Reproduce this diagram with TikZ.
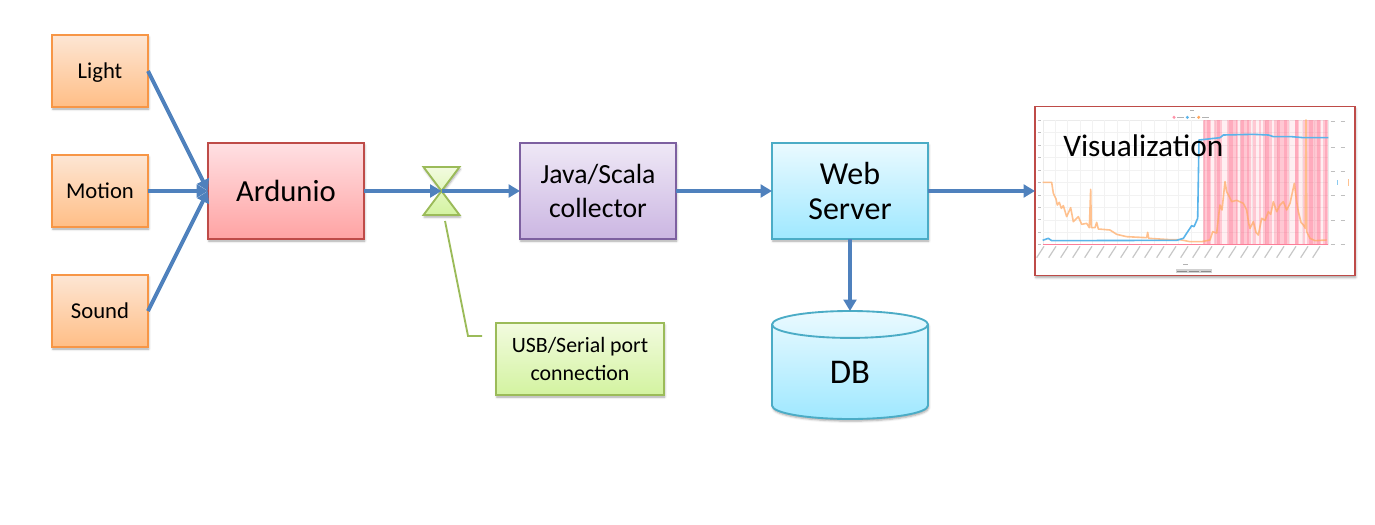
\documentclass[tikz,border=0pt]{standalone}
\usepackage{fontspec}
\setmainfont{Carlito}
\usetikzlibrary{arrows.meta,calc,positioning,shapes.geometric,shadows.blur}
\tikzset{%
      softshade/.style = { blur shadow={shadow xshift=.6pt, shadow yshift=-1.6pt, shadow blur radius=1.6pt, shadow opacity=35} },
        basebox/.style = { draw, line width=1.4pt, outer sep=0pt, softshade, align=center, inner sep=0pt, text=black },
         sensor/.style = { basebox, draw=sensorline, top color=sensortop, bottom color=sensorbot, minimum width=72pt, minimum height=54pt, text height=10.5pt, text depth=0pt, font=\fontsize{17}{19}\selectfont },
       unitsize/.style = { minimum width=117pt, minimum height=72pt },
        ardubox/.style = { basebox, unitsize, draw=arduline, top color=ardutop, bottom color=ardubot, font=\fontsize{23}{27}\selectfont },
        javabox/.style = { basebox, unitsize, draw=javaline, top color=javatop, bottom color=javabot, font=\fontsize{20.8}{25.5}\selectfont },
         webbox/.style = { basebox, unitsize, draw=webline, top color=webtop, bottom color=webbot, font=\fontsize{24}{26}\selectfont },
         dbdisk/.style = { cylinder, shape border rotate=90, aspect=.67, basebox, draw=webline, top color=webtop, bottom color=webbot, minimum width=117pt, minimum height=81pt, font=\fontsize{26}{30}\selectfont },
        notebox/.style = { basebox, draw=noteline, top color=notetop, bottom color=notebot, minimum width=126pt, minimum height=54pt, font=\fontsize{16.4}{20.5}\selectfont },
         vizbox/.style = { basebox, draw=arduline, fill=white, minimum width=240pt, minimum height=126.75pt },
       flowline/.style = { draw=flowblue, line width=3pt, -{Triangle[length=8.5pt,width=9.5pt]} },
       noteline/.style = { draw=noteline, line width=1.4pt },
         stripe/.style = { chartred, opacity=.28 },
}
\definecolor{sensorline}{HTML}{F79646}
\definecolor{sensortop}{HTML}{FDE6D4}
\definecolor{sensorbot}{HTML}{FFBE86}
\definecolor{arduline}{HTML}{BE4B48}
\definecolor{ardutop}{HTML}{FFE0E3}
\definecolor{ardubot}{HTML}{FFA3A3}
\definecolor{javaline}{HTML}{7D60A0}
\definecolor{javatop}{HTML}{EFE8F6}
\definecolor{javabot}{HTML}{CBB6E2}
\definecolor{webline}{HTML}{4BACC6}
\definecolor{webtop}{HTML}{EAFAFF}
\definecolor{webbot}{HTML}{9FE8FF}
\definecolor{noteline}{HTML}{9BBB59}
\definecolor{notetop}{HTML}{F2FBDF}
\definecolor{notebot}{HTML}{D3F3A0}
\definecolor{flowblue}{HTML}{4F81BD}
\definecolor{chartred}{HTML}{FF6384}
\definecolor{chartblue}{HTML}{5AB4EA}
\definecolor{chartorange}{HTML}{FFA860}
\begin{document}
\begin{tikzpicture}[x=.75pt,y=-.75pt]
  \useasboundingbox (0,0) rectangle (1375,525);

  % sources on the left
  \node[sensor] (light) at (100,71) {Light};
  \node[sensor, below=36pt of light] (motion) {Motion};
  \node[sensor, below=36pt of motion] (sound) {Sound};

  % main row
  \node[ardubox, right=45pt of motion] (ardunio) {Ardunio};
  \node[javabox, right=117pt of ardunio] (collector) {Java/Scala\\collector};
  \node[webbox, right=72pt of collector] (server) {Web\\Server};
  \node[vizbox, right=80.25pt of server] (viz) {};
  \node[dbdisk, below=54pt of server] (db) {DB};

  % port
  \coordinate (port) at (441.5,191);
  \node[notebox, anchor=north west] (note) at (496,323) {USB/Serial port\\connection};
  \coordinate (bend) at (468,336);
  \coordinate (noteend) at (482,336);
  \coordinate (portfoot) at (445,221);
  \draw[noteline, softshade, top color=notetop, bottom color=notebot, line join=miter]
    ($(port)+(-18,-24)$) -- ++(36,0) -- ($(port)+(-18,24)$) -- ++(36,0) -- cycle;
  \draw[noteline] (portfoot) -- (bend) -- (noteend);

  % chart inside the visualization box, in 1/3 px
  \begin{scope}[shift={(1020,95)},x=.25pt,y=-.25pt]
    \draw[black!8,line width=.2pt] (68,75) rectangle (925,448);
    \foreach \gx in {105,142,...,900} \draw[black!5,line width=.2pt] (\gx,75) -- (\gx,448);
    \foreach \gy in {112,150,187,225,262,300,337,374,411} \draw[black!5,line width=.2pt] (68,\gy) -- (925,\gy);
    \foreach \tx in {72,108,...,900} \draw[black!22,line width=.9pt] (\tx,454) -- ++(-22,34);
    \foreach \ty in {75,112,150,187,225,262,300,337,374,411,448} \draw[black!25,line width=.7pt] (54,\ty) -- ++(8,0);
    \foreach \ty in {80,157,230,302,375,448} {
      \draw[black!25,line width=.7pt] (932,\ty) -- ++(12,0);
      \draw[black!25,line width=.7pt] (962,\ty) -- ++(12,0);
    }
    % motion stripes
    \fill[chartred,opacity=.1] (548,75) rectangle (925,448);
    \foreach \sa/\sb in {548/574,582/606,622/655,660/694,700/707,716/722,728/756,762/806,824/838,850/856,862/904,908/925}
      \fill[stripe] (\sa,75) rectangle (\sb,448);
    \foreach \sa/\sb in {552/556,562/570,590/600,628/640,648/652,662/672,680/688,735/748,770/780,792/802,826/834,866/880,892/900,914/920}
      \fill[stripe] (\sa,75) rectangle (\sb,448);
    \draw[chartred,line width=1pt,opacity=.8] (68,448) -- (925,448);
    % sound
    \draw[chartorange,line width=1.2pt,opacity=.7,line join=round] (68,262) -- (95,262) -- (100,295) -- (108,312) -- (112,330) -- (118,322) -- (124,340) -- (130,332) -- (140,365) -- (152,338)
      -- (160,380) -- (175,365) -- (185,388) -- (200,385) -- (208,398) -- (212,283) -- (214,398) -- (225,398) -- (230,382) -- (235,402)
      -- (270,405) -- (290,418) -- (320,425) -- (380,428) -- (383,412) -- (386,430) -- (450,434) -- (480,434) -- (510,440) -- (545,440)
      -- (570,435) -- (578,410) -- (590,414) -- (596,360) -- (600,330) -- (606,345) -- (615,260) -- (620,290) -- (628,305) -- (635,320) -- (650,316) -- (670,325) -- (680,345) -- (686,385) -- (690,400)
      -- (700,380) -- (708,412) -- (715,420) -- (725,370) -- (735,376) -- (745,350) -- (752,358) -- (760,320) -- (770,350) -- (780,330) -- (790,320) -- (800,345) -- (810,325) -- (823,265) -- (830,320) -- (835,350) -- (843,382) -- (850,390)
      -- (856,400) -- (858,75) -- (860,410) -- (870,430) -- (885,437) -- (920,435);
    % light
    \draw[chartblue,line width=1.2pt,line join=round] (68,436) -- (85,430) -- (95,437) -- (470,436) -- (490,430) -- (515,392) -- (522,395)
      -- (533,370) -- (537,135) -- (600,128) -- (610,120) -- (700,118) -- (745,120) -- (760,125) -- (815,125) -- (850,128) -- (925,128);
    % legend and time button
    \fill[chartred!70] (462,67) circle (5);
    \draw[black!30,line width=.6pt] (472,67) -- ++(20,0);
    \fill[chartblue] (502,67) circle (5);
    \draw[black!30,line width=.6pt] (512,67) -- ++(14,0);
    \fill[chartorange] (536,67) circle (5);
    \draw[black!30,line width=.6pt] (546,67) -- ++(22,0);
    \draw[black!30,line width=.6pt] (510,47) -- ++(12,0);
    \draw[black!30,line width=.6pt] (490,507) -- ++(14,0);
    \fill[black!18] (468,523) rectangle (576,535);
    \draw[black!45,line width=1pt,dash pattern=on 7pt off 2pt] (472,529) -- (572,529);
    \fill[chartblue!70] (952,256) rectangle (955,270);
    \fill[chartorange!70] (984,252) rectangle (987,272);
  \end{scope}
  \node[anchor=base west, inner sep=0pt, font=\fontsize{23.5}{28}\selectfont] (viztext) at (1063,156) {Visualization};

  % connectors
  \draw[flowline] (light.east) -- (ardunio.west);
  \draw[flowline] (sound.east) -- (ardunio.west);
  \draw[flowline] (motion) -- (ardunio);
  \draw[flowline] (ardunio) -- (port);
  \draw[flowline] (port) -- (collector);
  \draw[flowline] (collector) -- (server);
  \draw[flowline] (server) -- (viz);
  \draw[flowline] (server) -- (db.north);
\end{tikzpicture}
\end{document}
